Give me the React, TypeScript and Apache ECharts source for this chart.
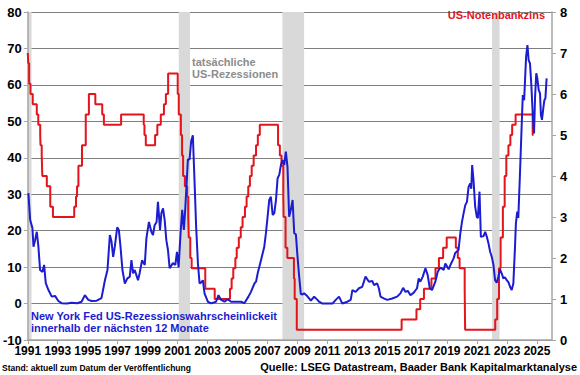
import React, { useEffect, useRef } from 'react';
import * as echarts from 'echarts';

const START_YEAR = 1991;
const END_YEAR = 2026;

// NY Fed recession probability (%), [decimal year, value]
const recessionProbability: [number, number][] = [
  [1991.04, 30.3], [1991.16, 22.9], [1991.31, 20.7], [1991.38, 15.6], [1991.49, 17.4], [1991.6, 19.7],
  [1991.71, 15.6], [1991.82, 9.2], [1991.98, 8.7], [1992.09, 10.6], [1992.2, 5.6], [1992.38, 3.7],
  [1992.6, 1.9], [1992.82, 2.1], [1993.04, 0.7], [1993.26, 0.1], [1993.6, 0.0], [1993.93, 0.2],
  [1994.3, 0.1], [1994.59, 0.5], [1994.81, 2.3], [1995.04, 1.0], [1995.26, 0.7], [1995.6, 0.8],
  [1995.92, 1.5], [1996.15, 6.4], [1996.32, 9.2], [1996.48, 18.8], [1996.59, 17.0], [1996.7, 12.8],
  [1996.81, 15.6], [1996.97, 20.9], [1997.08, 20.2], [1997.19, 15.6], [1997.32, 9.2], [1997.48, 5.5],
  [1997.65, 6.9], [1997.81, 7.4], [1997.92, 11.9], [1998.03, 8.3], [1998.14, 9.2], [1998.25, 7.8],
  [1998.36, 6.4], [1998.47, 8.4], [1998.63, 11.9], [1998.81, 10.6], [1998.92, 17.9], [1999.09, 22.4],
  [1999.25, 19.7], [1999.36, 18.8], [1999.47, 21.5], [1999.6, 22.4], [1999.69, 27.9], [1999.83, 20.2],
  [1999.92, 24.8], [2000.03, 26.1], [2000.14, 22.9], [2000.25, 17.4], [2000.36, 14.7], [2000.47, 9.7],
  [2000.69, 11.1], [2000.85, 10.6], [2000.96, 14.2], [2001.07, 9.9], [2001.2, 19.3], [2001.31, 25.7],
  [2001.42, 20.2], [2001.51, 25.7], [2001.69, 39.6], [2001.8, 39.5], [2001.91, 44.6], [2002.02, 46.2],
  [2002.13, 33.9], [2002.24, 21.1], [2002.36, 11.0], [2002.47, 5.5], [2002.58, 5.8], [2002.69, 6.4],
  [2002.8, 2.8], [2003.02, 0.5], [2003.24, 0.05], [2003.57, 0.5], [2003.73, 2.3], [2003.91, 1.0],
  [2004.13, 0.5], [2004.35, 1.2], [2004.57, 0.5], [2005.24, 0.5], [2005.46, 0.1], [2005.73, 1.9],
  [2005.9, 3.2], [2006.13, 5.5], [2006.24, 6.0], [2006.35, 8.3], [2006.57, 11.9], [2006.79, 15.6],
  [2006.9, 19.3], [2007.01, 23.8], [2007.12, 28.4], [2007.23, 29.3], [2007.35, 24.3], [2007.46, 24.8],
  [2007.57, 28.4], [2007.68, 34.4], [2007.79, 35.3], [2007.9, 38.0], [2008.01, 39.4], [2008.12, 38.0],
  [2008.23, 41.7], [2008.34, 37.5], [2008.45, 23.8], [2008.56, 25.7], [2008.68, 28.4], [2008.79, 19.3],
  [2008.9, 19.0], [2009.01, 12.8], [2009.12, 7.4], [2009.23, 2.6], [2009.34, 2.5], [2009.45, 2.8],
  [2009.67, 2.0], [2009.9, 0.8], [2010.12, 1.9], [2010.34, 1.0], [2010.45, 0.5], [2010.67, 0.0],
  [2011.34, 0.0], [2011.56, 1.0], [2011.78, 1.9], [2012.0, 0.0], [2012.34, 0.5], [2012.56, 1.0],
  [2012.67, 3.7], [2012.89, 3.2], [2013.11, 4.2], [2013.33, 4.6], [2013.55, 7.4], [2013.78, 6.0],
  [2014.0, 6.2], [2014.11, 5.1], [2014.33, 5.5], [2014.44, 4.2], [2014.55, 1.9], [2014.77, 1.4],
  [2015.0, 1.0], [2015.33, 1.4], [2015.66, 1.9], [2015.88, 2.8], [2016.06, 4.3], [2016.22, 3.2],
  [2016.37, 3.5], [2016.55, 2.3], [2016.77, 3.0], [2016.99, 4.2], [2017.1, 6.9], [2017.21, 6.0],
  [2017.37, 7.4], [2017.55, 9.7], [2017.7, 7.8], [2017.84, 4.2], [2017.99, 3.7], [2018.21, 6.0],
  [2018.37, 8.7], [2018.55, 9.9], [2018.77, 9.2], [2018.88, 11.0], [2019.1, 9.4], [2019.21, 10.5],
  [2019.43, 12.4], [2019.54, 13.9], [2019.76, 14.7], [2019.88, 19.3], [2019.99, 22.4], [2020.1, 24.8],
  [2020.21, 27.0], [2020.32, 27.9], [2020.43, 32.0], [2020.54, 33.0], [2020.61, 31.5], [2020.67, 38.0],
  [2020.76, 33.9], [2020.87, 26.6], [2020.98, 23.8], [2021.05, 23.4], [2021.16, 30.7], [2021.25, 18.3],
  [2021.43, 18.5], [2021.54, 19.7], [2021.65, 18.3], [2021.76, 16.5], [2021.87, 14.2], [2021.98, 12.8],
  [2022.09, 10.6], [2022.2, 6.4], [2022.31, 5.7], [2022.42, 7.4], [2022.53, 9.4], [2022.64, 8.3],
  [2022.75, 6.9], [2022.86, 7.2], [2022.98, 6.4], [2023.09, 5.9], [2023.2, 4.6], [2023.31, 3.7],
  [2023.42, 5.5], [2023.53, 15.6], [2023.59, 22.0], [2023.68, 25.2], [2023.75, 23.5], [2023.87, 36.6],
  [2023.98, 49.4], [2024.05, 57.2], [2024.14, 55.8], [2024.2, 61.3], [2024.27, 67.7], [2024.36, 70.9],
  [2024.44, 66.8], [2024.53, 65.9], [2024.62, 60.0], [2024.71, 52.2], [2024.8, 46.7], [2024.87, 56.7],
  [2024.95, 63.2], [2025.02, 61.8], [2025.11, 58.6], [2025.2, 57.7], [2025.26, 51.7], [2025.33, 50.4],
  [2025.42, 53.6], [2025.49, 55.8], [2025.56, 56.3], [2025.64, 61.8],
];

// US Fed funds target rate (upper bound, %), [decimal year of change, new value]
const fedFundsRate: [number, number][] = [
  [1991.0, 7.0], [1991.03, 6.75], [1991.09, 6.25], [1991.18, 6.0], [1991.33, 5.75], [1991.6, 5.5],
  [1991.7, 5.25], [1991.83, 5.0], [1991.85, 4.75], [1991.93, 4.5], [1991.97, 4.0], [1992.27, 3.75],
  [1992.5, 3.25], [1992.68, 3.0], [1994.1, 3.25], [1994.22, 3.5], [1994.29, 3.75], [1994.38, 4.25],
  [1994.62, 4.75], [1994.87, 5.5], [1995.08, 6.0], [1995.51, 5.75], [1995.97, 5.5], [1996.08, 5.25],
  [1997.23, 5.5], [1998.74, 5.25], [1998.79, 5.0], [1998.88, 4.75], [1999.5, 5.0], [1999.65, 5.25],
  [1999.88, 5.5], [2000.09, 5.75], [2000.22, 6.0], [2000.37, 6.5], [2001.01, 6.0], [2001.08, 5.5],
  [2001.22, 5.0], [2001.3, 4.5], [2001.37, 4.0], [2001.49, 3.75], [2001.64, 3.5], [2001.71, 3.0],
  [2001.75, 2.5], [2001.85, 2.0], [2001.94, 1.75], [2002.85, 1.25], [2003.48, 1.0], [2004.5, 1.25],
  [2004.61, 1.5], [2004.72, 1.75], [2004.86, 2.0], [2004.95, 2.25], [2005.09, 2.5], [2005.22, 2.75],
  [2005.34, 3.0], [2005.5, 3.25], [2005.61, 3.5], [2005.72, 3.75], [2005.83, 4.0], [2005.95, 4.25],
  [2006.08, 4.5], [2006.24, 4.75], [2006.36, 5.0], [2006.49, 5.25], [2007.71, 4.75], [2007.83, 4.5],
  [2007.94, 4.25], [2008.06, 3.5], [2008.08, 3.0], [2008.21, 2.25], [2008.33, 2.0], [2008.77, 1.5],
  [2008.82, 1.0], [2008.96, 0.25], [2015.96, 0.5], [2016.95, 0.75], [2017.2, 1.0], [2017.45, 1.25],
  [2017.95, 1.5], [2018.22, 1.75], [2018.45, 2.0], [2018.73, 2.25], [2018.97, 2.5], [2019.58, 2.25],
  [2019.71, 2.0], [2019.83, 1.75], [2020.17, 1.25], [2020.2, 0.25], [2022.21, 0.5], [2022.34, 1.0],
  [2022.46, 1.75], [2022.57, 2.5], [2022.72, 3.25], [2022.84, 4.0], [2022.95, 4.5], [2023.09, 4.75],
  [2023.22, 5.0], [2023.34, 5.25], [2023.57, 5.5], [2024.71, 5.0], [2024.76, 5.0],
];

// US recession periods (shaded), [start, end] in decimal years
const recessions: [number, number][] = [
  [1991.0, 1991.25],
  [2001.08, 2001.83],
  [2008.0, 2009.45],
  [2022.0, 2022.5],
];

const leftTicks = { min: -10, max: 80, interval: 10 };
const rightTicks = { min: 0, max: 8, interval: 1 };

const BLUE = '#1c1cd0';
const RED = '#e3141c';
const GREY_TEXT = '#8c8c8c';
const FONT = '"Liberation Sans", Arial, sans-serif';

export default function App() {
  const ref = useRef<HTMLDivElement>(null);

  useEffect(() => {
    if (!ref.current) return;
    const chart = echarts.init(ref.current, undefined, { renderer: 'svg' });
    const shift = (d: [number, number][]) => d.map(([x, y]) => [x - START_YEAR, y]);
    const axisLineStyle = { color: '#a6a6a6', width: 1.5 };
    const labelStyle = { color: '#000', fontWeight: 'bold' as const, fontFamily: FONT };

    chart.setOption({
      animation: false,
      backgroundColor: '#fff',
      textStyle: { fontFamily: FONT },
      grid: { left: 26, right: 28, top: 12, bottom: 35 },
      xAxis: {
        type: 'value',
        min: 0,
        max: END_YEAR - START_YEAR,
        interval: 2,
        axisLine: { show: true, onZero: false, lineStyle: axisLineStyle },
        axisTick: { show: true, length: 4, lineStyle: { color: '#a6a6a6' } },
        axisLabel: {
          ...labelStyle,
          fontSize: 12,
          margin: 5,
          showMaxLabel: false,
          formatter: (v: number) => String(v + START_YEAR),
        },
        splitLine: { show: false },
      },
      yAxis: [
        {
          type: 'value',
          position: 'left',
          ...leftTicks,
          axisLine: { show: true, lineStyle: axisLineStyle },
          axisTick: { show: true, length: 4, lineStyle: { color: '#a6a6a6' } },
          axisLabel: { ...labelStyle, fontSize: 13, margin: 6 },
          splitLine: { show: true, lineStyle: { color: '#7f7f7f', width: 1 } },
        },
        {
          type: 'value',
          position: 'right',
          ...rightTicks,
          axisLine: { show: true, lineStyle: axisLineStyle },
          axisTick: { show: true, length: 4, lineStyle: { color: '#a6a6a6' } },
          axisLabel: { ...labelStyle, fontSize: 13, margin: 8 },
          splitLine: { show: false },
        },
      ],
      series: [
        {
          type: 'custom',
          name: 'recessions',
          xAxisIndex: 0,
          yAxisIndex: 0,
          silent: true,
          z: 0,
          encode: { x: [0, 1] },
          data: recessions.map(([a, b]) => [a - START_YEAR, b - START_YEAR]),
          renderItem: (_params: any, api: any) => {
            const p0 = api.coord([api.value(0), leftTicks.max]);
            const p1 = api.coord([api.value(1), leftTicks.min]);
            return {
              type: 'rect',
              shape: { x: p0[0], y: p0[1], width: p1[0] - p0[0], height: p1[1] - p0[1] },
              style: { fill: '#d9d9d9' },
            };
          },
        },
        {
          type: 'line',
          name: 'US-Notenbankzins',
          yAxisIndex: 1,
          data: shift(fedFundsRate),
          step: 'end',
          symbol: 'none',
          lineStyle: { color: RED, width: 2 },
          z: 3,
        },
        {
          type: 'line',
          name: 'Rezessionswahrscheinlichkeit',
          yAxisIndex: 0,
          data: shift(recessionProbability),
          symbol: 'none',
          lineStyle: { color: BLUE, width: 2 },
          z: 4,
        },
      ],
      graphic: [
        {
          type: 'text',
          right: 35,
          top: 9,
          z: 100,
          style: { text: 'US-Notenbankzins', fill: RED, fontSize: 11, fontWeight: 'bold', fontFamily: FONT },
        },
        {
          type: 'text',
          left: 192,
          top: 56,
          z: 100,
          style: {
            text: 'tatsächliche\nUS-Rezessionen',
            fill: GREY_TEXT,
            fontSize: 11,
            fontWeight: 'bold',
            fontFamily: FONT,
            lineHeight: 12,
          },
        },
        {
          type: 'text',
          left: 31,
          top: 310,
          z: 100,
          style: {
            text: 'New York Fed US-Rezessionswahrscheinlickeit\ninnerhalb der nächsten 12 Monate',
            fill: BLUE,
            fontSize: 11,
            fontWeight: 'bold',
            fontFamily: FONT,
            lineHeight: 12,
          },
        },
        {
          type: 'text',
          left: 2,
          top: 363,
          z: 100,
          style: {
            text: 'Stand: aktuell zum Datum der Veröffentlichung',
            fill: '#000',
            fontSize: 8.5,
            fontWeight: 'bold',
            fontFamily: FONT,
          },
        },
        {
          type: 'text',
          right: 3,
          top: 361,
          z: 100,
          style: {
            text: 'Quelle: LSEG Datastream, Baader Bank Kapitalmarktanalyse',
            fill: '#000',
            fontSize: 11,
            fontWeight: 'bold',
            fontFamily: FONT,
          },
        },
      ],
    });

    return () => chart.dispose();
  }, []);

  return (
    <div
      ref={ref}
      style={{ position: 'fixed', left: 0, top: 0, width: 580, height: 375, background: '#fff' }}
    />
  );
}
